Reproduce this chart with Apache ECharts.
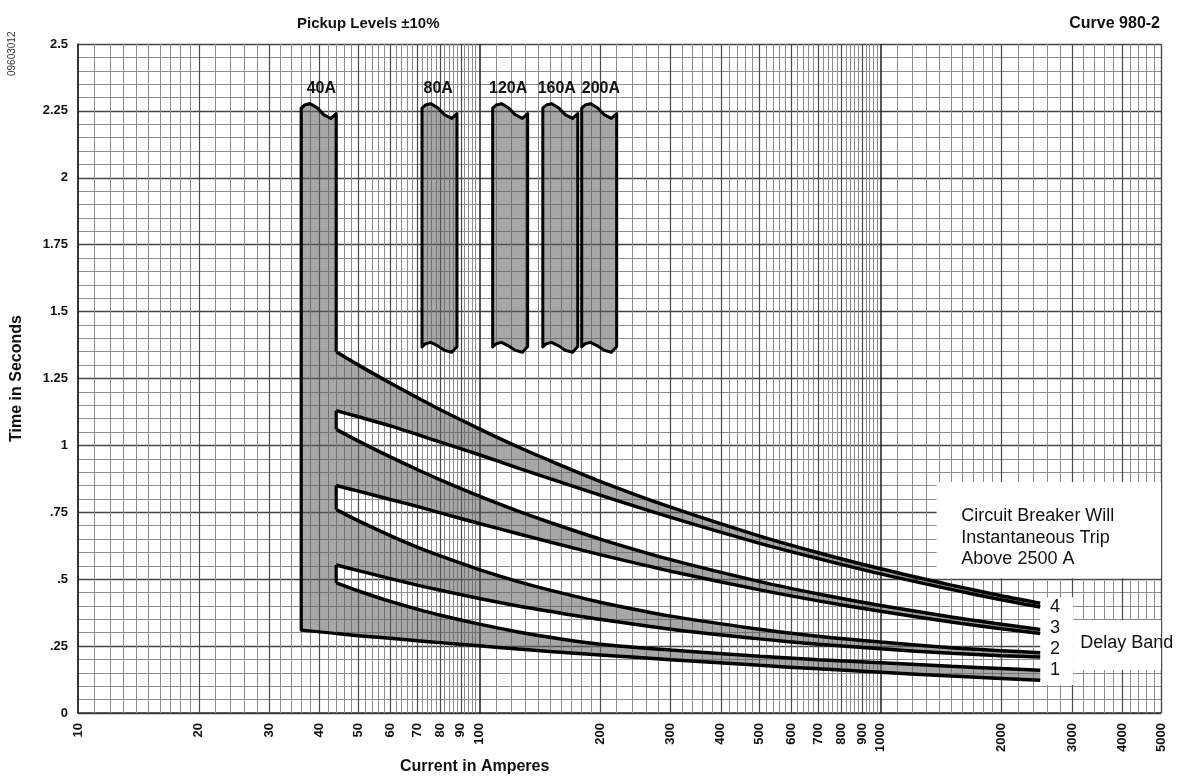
<!DOCTYPE html>
<html>
<head>
<meta charset="utf-8">
<title>Curve 980-2</title>
<script src="https://cdn.jsdelivr.net/npm/echarts@6/dist/echarts.min.js"></script>
<style>
  html, body { margin: 0; padding: 0; background: #fff; }
  #main { width: 1182px; height: 778px; }
</style>
</head>
<body>
<div id="main"></div>
<script>
// x tick labels (amperes)
const xTickValues = [10, 20, 30, 40, 50, 60, 70, 80, 90, 100, 200, 300, 400, 500, 600, 700, 800, 900, 1000, 2000, 3000, 4000, 5000];

// pickup strips: nominal amps, +-10%
const pickupAmps = [40, 80, 120, 160, 200];
const pickupLabels = ['40A', '80A', '120A', '160A', '200A'];
const pickupLabelAmps = [40.4, 79, 118, 156, 201];
const pickupTol = 0.1;
// wavy ends of the strips (seconds), across the strip width
const waveFrac = [0, 0.1, 0.25, 0.45, 0.65, 0.85, 1];
const waveTop = [2.26, 2.272, 2.277, 2.262, 2.235, 2.222, 2.24];
const waveBottom = [1.368, 1.38, 1.385, 1.372, 1.355, 1.348, 1.37];
const strip40Base = 0.31; // bottom-left corner of the 40A strip (s)

// delay band boundary lines, seconds at bandAmps
const bandAmps = [44, 50, 60, 70, 80, 100, 125, 150, 200, 300, 500, 700, 1000, 1500, 2000, 2500];
const band4Upper = [1.35, 1.30, 1.233, 1.179, 1.133, 1.062, 0.994, 0.943, 0.866, 0.769, 0.661, 0.599, 0.539, 0.478, 0.438, 0.41];
const band4Lower = [1.13, 1.107, 1.073, 1.041, 1.012, 0.965, 0.915, 0.876, 0.814, 0.731, 0.634, 0.577, 0.52, 0.462, 0.423, 0.396];
const band3Upper = [1.06, 1.016, 0.957, 0.91, 0.871, 0.81, 0.754, 0.712, 0.65, 0.573, 0.491, 0.445, 0.402, 0.359, 0.332, 0.312];
const band3Lower = [0.85, 0.829, 0.798, 0.772, 0.748, 0.708, 0.67, 0.639, 0.592, 0.53, 0.46, 0.419, 0.38, 0.34, 0.315, 0.297];
const band2Upper = [0.76, 0.718, 0.663, 0.62, 0.587, 0.536, 0.491, 0.459, 0.414, 0.362, 0.313, 0.287, 0.265, 0.244, 0.233, 0.225];
const band2Lower = [0.553, 0.532, 0.502, 0.478, 0.459, 0.428, 0.4, 0.38, 0.35, 0.313, 0.277, 0.257, 0.24, 0.223, 0.214, 0.209];
const band1Upper = [0.486, 0.456, 0.417, 0.388, 0.365, 0.332, 0.303, 0.283, 0.257, 0.235, 0.212, 0.199, 0.188, 0.175, 0.166, 0.16];
const band1Lower = [0.297, 0.289, 0.279, 0.27, 0.263, 0.251, 0.239, 0.23, 0.217, 0.199, 0.178, 0.165, 0.152, 0.138, 0.129, 0.122];

const bands = [
  [band4Upper, band4Lower],
  [band3Upper, band3Lower],
  [band2Upper, band2Lower],
  [band1Upper, band1Lower]
];

const bandNumbers = ['4', '3', '2', '1'];
const bandNumberTimes = [0.396, 0.318, 0.239, 0.161];
const bandNumberAmp = 2723;

// white boxes cut out of the grid: [[amp, s], [amp, s]]
const clearBoxes = [
  [[1380, 0.863], [5000, 0.504]],
  [[2500, 0.433], [3020, 0.105]],
  [[3020, 0.348], [5000, 0.161]]
];

const FILL = 'rgba(95,95,95,0.55)';
const FONT = 'Liberation Sans, Arial, Helvetica, sans-serif';

// log paper vertical lines: 10 steps in 1-2, 5 steps elsewhere
const subdiv = { 1: 10, 2: 5, 3: 5, 4: 5, 5: 5, 6: 5, 7: 5, 8: 5, 9: 5 };
const gridLines = [];
[10, 100, 1000].forEach(function (dec) {
  for (let m = 1; m <= 9; m++) {
    const base = dec * m;
    if (base > 5000) break;
    gridLines.push({ xAxis: base, lineStyle: { type: 'solid', color: m === 1 ? '#2a2a2a' : '#4a4a4a', width: m === 1 ? 1.6 : 1.2 } });
    for (let k = 1; k < subdiv[m]; k++) {
      const v = dec * (m + k / subdiv[m]);
      if (v >= 5000) break;
      gridLines.push({ xAxis: v, lineStyle: { type: 'solid', color: '#8c8c8c', width: 1 } });
    }
  }
});
gridLines.push({ xAxis: 5000, lineStyle: { type: 'solid', color: '#4a4a4a', width: 1.2 } });

function stripItem(params, api) {
  const amp = api.value(0);
  const lo = amp * (1 - pickupTol), hi = amp * (1 + pickupTol);
  const xs = waveFrac.map(function (f) { return lo * Math.pow(hi / lo, f); });
  const top = xs.map(function (x, k) { return api.coord([x, waveTop[k]]); });
  const children = [];
  if (params.dataIndex === 0) {
    const bl = api.coord([lo, strip40Base]);
    const br = api.coord([hi, band1Lower[0]]);
    children.push({ type: 'polygon', shape: { points: top.concat([br, bl]) }, style: { fill: FILL } });
    children.push({ type: 'polyline', shape: { points: [api.coord([hi, band4Upper[0]])].concat(top.slice().reverse(), [bl, br]) },
      style: { stroke: '#000', lineWidth: 3.2, fill: null, lineJoin: 'round' } });
    // left edges of the white gaps between bands
    [[band4Lower, band3Upper], [band3Lower, band2Upper], [band2Lower, band1Upper]].forEach(function (p) {
      children.push({ type: 'polyline', shape: { points: [api.coord([hi, p[0][0]]), api.coord([hi, p[1][0]])] },
        style: { stroke: '#000', lineWidth: 3.2, fill: null } });
    });
  } else {
    const bot = xs.map(function (x, k) { return api.coord([x, waveBottom[k]]); });
    const pts = top.concat(bot.slice().reverse());
    children.push({ type: 'polygon', shape: { points: pts }, style: { fill: FILL, stroke: '#000', lineWidth: 3, lineJoin: 'round' } });
  }
  return { type: 'group', children: children };
}

// grey fill between the two lines of a delay band
function bandItem(params, api) {
  const b = bands[api.value(2)];
  const up = bandAmps.map(function (a, k) { return api.coord([a, b[0][k]]); });
  const low = bandAmps.map(function (a, k) { return api.coord([a, b[1][k]]); });
  return { type: 'polygon', shape: { points: up.concat(low.reverse()) }, style: { fill: FILL } };
}

const curveSeries = [];
bands.forEach(function (b) {
  b.forEach(function (vals) {
    curveSeries.push({
      type: 'line', smooth: 0.3, symbol: 'none', z: 5, silent: true, animation: false,
      lineStyle: { color: '#000', width: 3.5 },
      data: bandAmps.map(function (a, i) { return [a, vals[i]]; })
    });
  });
});

const textItems = [];
pickupLabels.forEach(function (t, i) {
  textItems.push({ value: [pickupLabelAmps[i], 2.335], label: { formatter: t, fontSize: 16, fontWeight: 'bold', position: 'inside' } });
});
bandNumbers.forEach(function (n, i) {
  textItems.push({ value: [bandNumberAmp, bandNumberTimes[i]], label: { formatter: n, fontSize: 18, position: 'inside' } });
});
textItems.push({ value: [1590, 0.654], label: { formatter: 'Circuit Breaker Will\nInstantaneous Trip\nAbove 2500 A', fontSize: 18, lineHeight: 21.5, position: 'right', distance: 0, align: 'left' } });
textItems.push({ value: [3145, 0.262], label: { formatter: 'Delay Band', fontSize: 18, position: 'right', distance: 0, align: 'left' } });

const myChart = echarts.init(document.getElementById('main'));
myChart.setOption({
  backgroundColor: '#fff',
  animation: false,
  textStyle: { fontFamily: FONT },
  title: [
    { text: 'Pickup Levels ±10%', left: 292, top: 11, textStyle: { fontSize: 15, fontWeight: 'bold', color: '#111', fontFamily: FONT } },
    { text: 'Curve 980-2', right: 17, top: 11, textStyle: { fontSize: 16, fontWeight: 'bold', color: '#111', fontFamily: FONT } },
    { text: 'Current in Amperes', left: 395, top: 754, textStyle: { fontSize: 16, fontWeight: 'bold', color: '#111', fontFamily: FONT } }
  ],
  graphic: [{
    type: 'text', x: 12, y: 76, rotation: Math.PI / 2,
    style: { text: '09603012', fontSize: 10, fill: '#333', fontFamily: FONT, textAlign: 'left', textVerticalAlign: 'middle' }
  }],
  grid: { left: 78, right: 21, top: 44, bottom: 65 },
  xAxis: {
    type: 'log', logBase: 10, min: 10, max: 5000,
    axisLine: { show: true, lineStyle: { color: '#333', width: 1.5 } },
    axisTick: { show: false },
    splitLine: { show: false },
    axisLabel: {
      customValues: xTickValues, rotate: 90, margin: 10,
      fontSize: 13, fontWeight: 'bold', color: '#111', fontFamily: FONT,
      formatter: function (v) { return String(Math.round(v)); }
    }
  },
  yAxis: {
    type: 'value', min: 0, max: 2.5, interval: 0.25,
    name: 'Time in Seconds', nameLocation: 'middle', nameGap: 53,
    nameTextStyle: { fontSize: 16, fontWeight: 'bold', color: '#111', fontFamily: FONT },
    axisLine: { show: true, lineStyle: { color: '#333', width: 1.5 } },
    axisTick: { show: false },
    splitLine: { lineStyle: { color: '#444', width: 1.4 } },
    minorTick: { show: false, splitNumber: 5 },
    minorSplitLine: { show: true, lineStyle: { color: '#8c8c8c', width: 1 } },
    axisLabel: {
      margin: 10, fontSize: 13, fontWeight: 'bold', color: '#111', fontFamily: FONT,
      formatter: function (v) { return v === 0 ? '0' : String(v).replace(/^0\./, '.'); }
    }
  },
  series: [
    {
      type: 'line', name: 'grid', data: [], silent: true, z: 1,
      markLine: { silent: true, symbol: ['none', 'none'], z: 1, label: { show: false }, animation: false,
        lineStyle: { type: 'solid' }, data: gridLines }
    },
    {
      type: 'line', name: 'boxes', data: [], silent: true, z: 2,
      markArea: { silent: true, z: 2, itemStyle: { color: '#fff' }, animation: false,
        data: clearBoxes.map(function (b) { return [{ coord: b[0] }, { coord: b[1] }]; }) }
    },
    {
      type: 'custom', name: 'bandFill', z: 3, silent: true, animation: false,
      renderItem: bandItem,
      encode: { x: 0, y: 1 },
      data: bands.map(function (b, i) { return [bandAmps[0], b[1][0], i]; })
    },
    {
      type: 'custom', name: 'strips', z: 6, silent: true, animation: false,
      renderItem: stripItem,
      encode: { x: 0, y: 1 },
      data: pickupAmps.map(function (a) { return [a, 2]; })
    }
  ].concat(curveSeries, [{
    type: 'scatter', name: 'text', symbolSize: 0, z: 7, silent: true, animation: false,
    itemStyle: { opacity: 1, color: 'rgba(0,0,0,0)' },
    label: { show: true, color: '#111', opacity: 1, fontFamily: FONT },
    data: textItems
  }])
});
</script>
</body>
</html>
